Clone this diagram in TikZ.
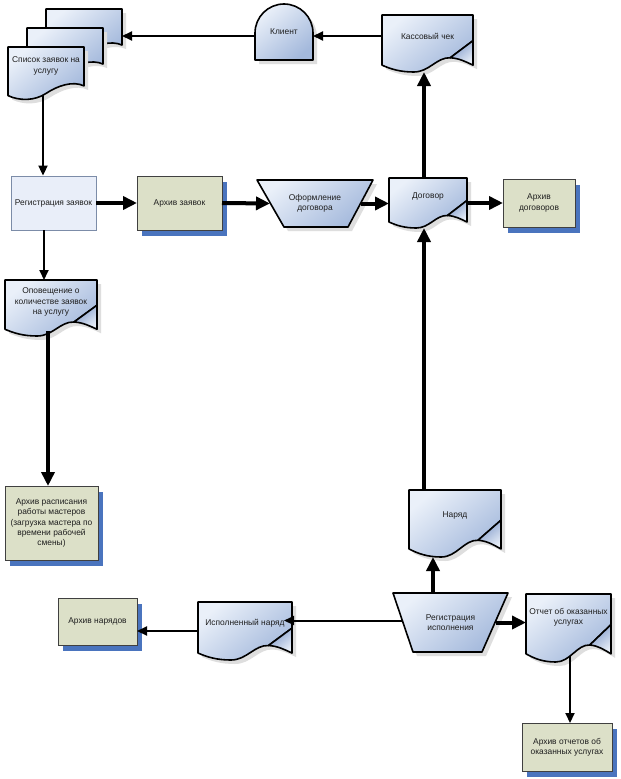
\documentclass[tikz,border=0pt]{standalone}
\usepackage{fontspec}
\setmainfont{Liberation Sans}
\usetikzlibrary{arrows.meta,calc}
\definecolor{docA}{HTML}{EAF0F9}
\definecolor{docB}{HTML}{A4B9DC}
\definecolor{foldA}{HTML}{7E98C8}
\definecolor{foldB}{HTML}{E6EDF7}
\definecolor{arcfill}{HTML}{DCE0C8}
\definecolor{arcshadow}{HTML}{4A74BE}
\definecolor{regfill}{HTML}{E9EEF9}
\definecolor{regline}{HTML}{7C8CA8}
\definecolor{softshadow}{HTML}{DEDEDE}
\definecolor{txtcol}{HTML}{1E1E1E}
\tikzset{
  boxnode/.style={inner sep=0pt, outer sep=0pt, draw=none},
  lbl/.style={font=\fontsize{8.4}{10.4}\selectfont, text=txtcol, align=center, inner sep=0pt},
  docfill/.style={draw=black, line width=1.6pt, line join=round, top color=docA, bottom color=docB, shading angle=40},
  foldfill/.style={draw=black, line width=1.6pt, line join=round, top color=foldA, bottom color=foldB, shading angle=40},
  softsh/.style={fill=softshadow},
  arcbox/.style={draw=black!75, line width=0.9pt, fill=arcfill, inner sep=0pt, outer sep=0pt, align=center, font=\fontsize{8.4}{10.2}\selectfont, text=txtcol},
  arcsh/.style={fill=arcshadow},
  thickarr/.style={line width=4pt, -{Triangle[length=14pt,width=13pt]}},
  thinarr/.style={line width=2pt, -{Triangle[length=10pt,width=9pt]}},
}
\def\docbody{(0,0) -- (1,0) -- (1,0.45) -- (0.75,0.75) .. controls (0.6,0.74) and (0.52,1) .. (0.35,1) .. controls (0.2,1) and (0.1,0.95) .. (0,0.88) -- cycle}
\def\docfull{(0,0) -- (1,0) -- (1,0.88) .. controls (0.92,0.82) and (0.85,0.76) .. (0.75,0.75) .. controls (0.6,0.74) and (0.52,1) .. (0.35,1) .. controls (0.2,1) and (0.1,0.95) .. (0,0.88) -- cycle}
\def\docfold{(1,0.45) -- (0.75,0.75) .. controls (0.85,0.76) and (0.92,0.82) .. (1,0.88) -- cycle}
\def\docplain{(0,0) -- (1,0) -- (1,0.72) .. controls (0.85,0.62) and (0.65,0.72) .. (0.5,0.86) .. controls (0.35,1) and (0.15,1) .. (0,0.9) -- cycle}
% name, x0, y0, w, h, text, text offset from top
\newcommand\DocF[7]{%
  \begin{scope}[shift={(#2,#3)}, x=#4pt, y=-#5pt]
    \fill[softsh, shift={(4pt,-4pt)}] \docfull;
    \path[docfill] \docbody;
    \path[foldfill] \docfold;
  \end{scope}
  \node[boxnode, minimum width=#4pt, minimum height=#5pt] (#1) at ({#2+#4/2},{#3+#5/2}) {};
  \node[lbl] (#1-t) at ({#2+#4/2},{#3+#7}) {#6};
}
\newcommand\DocP[5]{%
  \begin{scope}[shift={(#2,#3)}, x=#4pt, y=-#5pt]
    \fill[softsh, shift={(4pt,-4pt)}] \docplain;
    \path[docfill] \docplain;
  \end{scope}
  \node[boxnode, minimum width=#4pt, minimum height=#5pt] (#1) at ({#2+#4/2},{#3+#5/2}) {};
}
% name, x0, y0, w, h, inset left, inset right, text
\newcommand\Trap[8]{%
  \fill[softsh] ({#2+4},{#3+4}) -- ++(#4,0) -- ++({-#7},#5) -- ({#2+4+#6},{#3+4+#5}) -- cycle;
  \path[docfill] (#2,#3) -- ++(#4,0) -- ++({-#7},#5) -- ({#2+#6},{#3+#5}) -- cycle;
  \node[boxnode, minimum width=#4pt, minimum height=#5pt] (#1) at ({#2+#4/2},{#3+#5/2}) {};
  \node[lbl] (#1-t) at ({#2+#4/2},{#3+#5/2}) {#8};
}
% name, x0, y0, w, h, text
\newcommand\Arch[6]{%
  \fill[arcsh] ({#2+5},{#3+6}) rectangle ++(#4,#5);
  \node[arcbox, minimum width=#4pt, minimum height=#5pt] (#1) at ({#2+#4/2},{#3+#5/2}) {#6};
}
\begin{document}
\begin{tikzpicture}[x=1pt,y=-1pt]
\useasboundingbox (0,0) rectangle (621,779);
\fill[white] (0,0) rectangle (621,779);

% stacked documents
\DocP{spA}{46}{9}{76}{50}
\DocP{spB}{27}{28}{76}{50}
\DocP{spC}{8}{47}{76}{54}
\node[lbl] (spC-t) at (46,66) {Список заявок на\\услугу};

% client
\fill[softsh] (259,64) -- (259,37) .. controls (259,21) and (272,8) .. (288,8) .. controls (304,8) and (317,21) .. (317,37) -- (317,64) -- cycle;
\path[docfill] (255,60) -- (255,33) .. controls (255,17) and (268,4) .. (284,4) .. controls (300,4) and (313,17) .. (313,33) -- (313,60) -- cycle;
\node[boxnode, minimum width=58pt, minimum height=56pt] (client) at (284,32) {};
\node[lbl] (client-t) at (284,32) {Клиент};

\DocF{chek}{382}{15}{91}{57}{Кассовый чек}{21}

% registration of requests
\node[draw=regline, line width=0.9pt, fill=regfill, minimum width=85pt, minimum height=54pt, inner sep=0pt, font=\fontsize{8.4}{10}\selectfont, text=txtcol] (regz) at (53.5,203) {Регистрация заявок};

\Arch{arhz}{137}{176}{85}{54}{Архив заявок}
\Trap{oform}{257}{180}{116}{47}{27}{25}{Оформление\\договора}
\DocF{dog}{389}{178}{78}{50}{Договор}{18}
\Arch{arhd}{503}{179}{72}{48}{Архив\\договоров}

\DocF{opov}{5}{280}{92}{56}{Оповещение о\\количестве заявок\\на услугу}{22}
\Arch{arhr}{5}{486}{93}{74}{Архив расписания\\работы мастеров\\(загрузка мастера по\\времени рабочей\\смены)}

\DocF{naryad}{409}{490}{92}{67}{Наряд}{25}
\Trap{regi}{393}{593}{115}{59}{20}{26}{Регистрация\\исполнения}
\DocF{otchet}{526}{594}{85}{68}{Отчет об оказанных\\услугах}{23}
\DocF{ispn}{198}{602}{94}{58}{Исполненный наряд}{21}
\Arch{arhn}{58}{598}{79}{47}{Архив нарядов}
\Arch{arho}{522}{723}{90}{48}{Архив отчетов об\\оказанных услугах}

% connectors
\coordinate (c1) at ([yshift=7.5pt]chek.west);
\draw[thinarr] (c1) -- (c1 -| client.east);
\coordinate (c2) at ([yshift=-4pt]client.west);
\draw[thinarr] (c2) -- (c2 -| spA.east);
\coordinate (c3) at ([xshift=-3pt,yshift=6pt]spC.south);
\draw[thinarr] (c3) -- (c3 |- regz.north);
\coordinate (c4) at ([xshift=-9.5pt]regz.south);
\draw[thinarr] (c4) -- (c4 |- opov.north);
\draw[thickarr] (regz.east) -- (arhz.west);
\draw[thickarr] (arhz.east) -- ([xshift=13pt]oform.west);
\draw[thickarr] ([xshift=-12.5pt]oform.east) coordinate (c7) -- (c7 -| dog.west);
\draw[thickarr] (dog.east) -- (dog.east -| arhd.west);
\coordinate (c9) at ([xshift=-4pt]dog.north);
\draw[thickarr] (c9) -- (c9 |- chek.south);
\coordinate (c10) at (c9 |- naryad.north);
\draw[thickarr] (c10) -- (c9 |- dog.south);
\coordinate (c11) at ([xshift=-17.5pt]regi.north);
\draw[thickarr] (c11) -- (c11 |- naryad.south);
\draw[thickarr] ([xshift=-12pt]regi.east) coordinate (c12) -- (c12 -| otchet.west);
\coordinate (c13) at ([xshift=10pt,yshift=2pt]regi.west);
\draw[thinarr] (c13) -- ([xshift=-8pt]c13 -| ispn.east);
\draw[thinarr] (ispn.west) -- (ispn.west -| arhn.east);
\coordinate (c15) at ([xshift=1.5pt,yshift=6pt]otchet.south);
\draw[thinarr] (c15) -- (c15 |- arho.north);
\coordinate (c16) at ([xshift=-3pt,yshift=5pt]opov.south);
\draw[thickarr] (c16) -- (c16 |- arhr.north);
\end{tikzpicture}
\end{document}
